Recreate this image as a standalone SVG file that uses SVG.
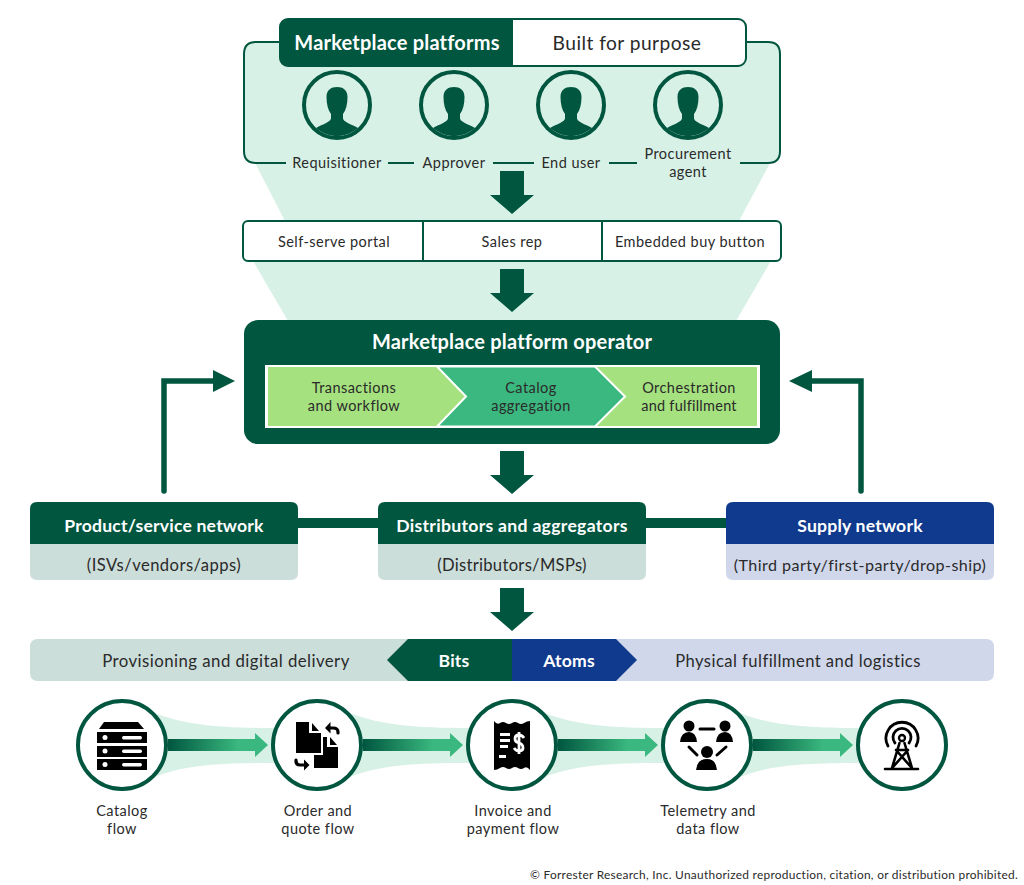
<svg xmlns="http://www.w3.org/2000/svg" xmlns:xlink="http://www.w3.org/1999/xlink" width="1024" height="885" viewBox="0 0 1024 885">
<style>
text{font-family:"Lato","Open Sans","Liberation Sans",sans-serif;fill:#2a2a2a;text-anchor:middle;font-size:14.5px;letter-spacing:.45px}
.w{fill:#fff;font-weight:700;font-size:17.6px;letter-spacing:.2px}
.t{font-size:20px}
.m{font-size:16.6px}
.d{fill:#00563f}
.o{fill:none;stroke:#00563f;stroke-width:2}
.disc{fill:#fff;stroke:#00563f;stroke-width:4}
.k{fill:#000}
.ks{fill:none;stroke:#000;stroke-linecap:round}
.rib{fill:#d8f1e6}
</style>
<defs>
<linearGradient id="fl" x1="0" x2="1" y1="0" y2="0"><stop offset="0" stop-color="#00563f"/><stop offset=".7" stop-color="#3ab87f"/></linearGradient>
<path id="dn" class="d" d="M-12,0H12V24H22L0,43L-22,24H-12Z"/>
<g id="person"><circle r="33" fill="none" stroke="#00563f" stroke-width="4"/><path class="d" d="M-10.500,-8C-10.500,-15-6,-18 0,-18C6,-18 10.500,-15 10.500,-8C10.500,-1 9,5 6,9V13C6,17 14,19 21,23A31,31 0 0 1 -21,23C-14,19 -6,17 -6,13V9C-9,5 -10.500,-1 -10.500,-8Z"/></g>
<path id="rb" class="rib" d="M-5,-32C25,-20 60,-17 115,-17V18C60,18 25,20 -5,32Z"/>
<path id="fa" fill="url(#fl)" d="M0,-6H87V-12L100,0L87,12V6H0Z"/>
</defs>

<g id="connectors">
<path class="rib" d="M255,163L285,221H739L770,163Z"/>
<path class="rib" d="M253,261L288,321H736L771,261Z"/>
<path fill="#d8f1e6" d="M256,42H768Q780,42 780,54V151Q780,163 768,163H256Q244,163 244,151V54Q244,42 256,42Z"/>
<path class="o" d="M282,42H256Q244,42 244,54V151Q244,163 256,163H286M388,163H414M493,163H534M609,163H637M740,163H768Q780,163 780,151V54Q780,42 768,42H744"/>
<use xlink:href="#dn" x="512" y="171"/>
<use xlink:href="#dn" x="512" y="269"/>
<use xlink:href="#dn" x="512" y="451"/>
<use xlink:href="#dn" x="512" y="588"/>
<path fill="none" stroke="#00563f" stroke-width="5.5" stroke-linecap="round" d="M164,491V381H215"/>
<path class="d" d="M213,370L235,381L213,392Z"/>
<path fill="none" stroke="#00563f" stroke-width="5.5" stroke-linecap="round" d="M861,491V381H810"/>
<path class="d" d="M812,370L789,381L812,392Z"/>
<rect class="d" x="296" y="518" width="84" height="10"/>
<rect class="d" x="644" y="518" width="84" height="10"/>
<use xlink:href="#rb" x="160" y="745"/>
<use xlink:href="#rb" x="355" y="745"/>
<use xlink:href="#rb" x="550" y="745"/>
<use xlink:href="#rb" x="745" y="745"/>
<use xlink:href="#fa" x="168" y="745"/>
<use xlink:href="#fa" x="363" y="745"/>
<use xlink:href="#fa" x="558" y="745"/>
<use xlink:href="#fa" x="753" y="745"/>
</g>

<g id="header">
<rect x="280" y="19" width="466" height="47" rx="8" fill="#fff" stroke="#00563f" stroke-width="2"/>
<path class="d" d="M288,19H513V66H288Q280,66 280,58V27Q280,19 288,19Z"/>
<text class="w t" x="397" y="50">Marketplace platforms</text>
<text x="627" y="50" style="font-size:19.2px">Built for purpose</text>
</g>

<g id="req"><use xlink:href="#person" x="337" y="105"/><text x="337" y="168">Requisitioner</text></g>
<g id="app"><use xlink:href="#person" x="454" y="105"/><text x="454" y="168">Approver</text></g>
<g id="end"><use xlink:href="#person" x="571" y="105"/><text x="571" y="168">End user</text></g>
<g id="proc"><use xlink:href="#person" x="688" y="105"/><text x="688" y="159">Procurement</text><text x="688" y="177">agent</text></g>

<g id="channels">
<rect x="243" y="221" width="538" height="40" rx="5" fill="#fff" stroke="#00563f" stroke-width="2"/>
<path class="o" d="M423,221V261M602,221V261"/>
<text x="334" y="247">Self-serve portal</text>
<text x="512" y="247">Sales rep</text>
<text x="690" y="247">Embedded buy button</text>
</g>

<g id="operator">
<rect class="d" x="244" y="320" width="536" height="124" rx="14"/>
<text class="w t" x="512" y="349">Marketplace platform operator</text>
<rect x="265" y="365" width="495" height="63" fill="#fff"/>
<rect x="268" y="367" width="489" height="59" fill="#a5e17f"/>
<path fill="#3ab87f" stroke="#fff" stroke-width="2" d="M437,366.500H595L625,396.500L595,426.500H437L466,396.500Z"/>
<text x="354" y="393">Transactions</text><text x="354" y="411">and workflow</text>
<text x="531" y="393">Catalog</text><text x="531" y="411">aggregation</text>
<text x="689" y="393">Orchestration</text><text x="689" y="411" style="letter-spacing:.25px">and fulfillment</text>
</g>

<g id="product">
<path fill="#ccdeda" d="M30,540H298V573Q298,580 291,580H37Q30,580 30,573Z"/>
<path class="d" d="M37,502H291Q298,502 298,509V544H30V509Q30,502 37,502Z"/>
<text class="w" x="164" y="532">Product/service network</text>
<text class="m" x="164" y="571">(ISVs/vendors/apps)</text>
</g>
<g id="distributors">
<path fill="#ccdeda" d="M378,540H646V573Q646,580 639,580H385Q378,580 378,573Z"/>
<path class="d" d="M385,502H639Q646,502 646,509V544H378V509Q378,502 385,502Z"/>
<text class="w" x="512" y="532" style="letter-spacing:.3px">Distributors and aggregators</text>
<text class="m" x="512" y="571" style="letter-spacing:.3px">(Distributors/MSPs)</text>
</g>
<g id="supply">
<path fill="#d0d7ea" d="M726,540H994V573Q994,580 987,580H733Q726,580 726,573Z"/>
<path fill="#0f3a8d" d="M733,502H987Q994,502 994,509V544H726V509Q726,502 733,502Z"/>
<text class="w" x="860" y="532">Supply network</text>
<text class="m" x="860" y="571" style="font-size:16.1px">(Third party/first-party/drop-ship)</text>
</g>

<g id="bar">
<path fill="#ccdeda" d="M38,639H512V681H38Q30,681 30,673V647Q30,639 38,639Z"/>
<path fill="#d0d7ea" d="M512,639H986Q994,639 994,647V673Q994,681 986,681H512Z"/>
<path class="d" d="M512,639H408L387,660L408,681H512Z"/>
<path fill="#0f3a8d" d="M512,639H616L637,660L616,681H512Z"/>
<text class="w" x="454" y="667">Bits</text>
<text class="w" x="569" y="667">Atoms</text>
<text class="m" x="226" y="667" style="font-size:16.8px">Provisioning and digital delivery</text>
<text class="m" x="798" y="667">Physical fulfillment and logistics</text>
</g>

<g id="catalog">
<circle class="disc" cx="122" cy="745" r="44"/>
<path class="k" d="M104,722H138L144,729H99Z"/>
<rect class="k" x="97" y="732" width="50" height="11"/><rect class="k" x="97" y="746" width="50" height="11"/><rect class="k" x="97" y="759" width="50" height="11"/>
<g fill="#fff"><circle cx="105" cy="737.500" r="2.500"/><circle cx="105" cy="751" r="2.500"/><circle cx="105" cy="764.500" r="2.500"/><rect x="122" y="736" width="20" height="3.500" rx="1.700"/><rect x="122" y="749.500" width="20" height="3.500" rx="1.700"/><rect x="122" y="763" width="20" height="3.500" rx="1.700"/></g>
<text x="122" y="816">Catalog</text><text x="122" y="834">flow</text>
</g>
<g id="order">
<circle class="disc" cx="317" cy="745" r="44"/>
<path class="k" d="M296,722H309V733H321V753H296Z"/>
<path class="k" d="M323,737H327V747H338V768H314V755H323Z"/>
<path class="k" d="M312,723L319,731H312Z"/><path class="k" d="M330,737L337,745H330Z"/>
<path class="ks" stroke-width="3.200" d="M338,733V732Q338,728 333,728H328"/><path class="k" d="M330.500,722L325,728L330.500,733.500Z"/>
<path class="ks" stroke-width="3.200" d="M296,760V761Q296,765 300,765H305"/><path class="k" d="M304,759.500L309.500,765L304,770.500Z"/>
<text x="318" y="816">Order and</text><text x="318" y="834">quote flow</text>
</g>
<g id="invoice">
<circle class="disc" cx="512" cy="745" r="44"/>
<path class="k" d="M494,721Q497,725 500,723T506,723T512,723T518,723T524,723T530,721V770Q527,766 524,768T518,768T512,768T506,768T500,768T494,770Z"/>
<g fill="#fff"><rect x="500" y="733" width="10" height="3"/><rect x="500" y="739" width="10" height="3"/><rect x="500" y="745" width="8" height="3"/><rect x="499" y="755" width="7" height="3"/></g>
<path fill="none" stroke="#fff" stroke-width="2.800" d="M524,738Q522,735 519,735Q515,735 515,739Q515,742 519,743Q523,744 523,748Q523,751 519,751Q516,751 514,748M519,732V754"/>
<text x="513" y="816">Invoice and</text><text x="513" y="834">payment flow</text>
</g>
<g id="telemetry">
<circle class="disc" cx="707" cy="745" r="44"/>
<g class="k"><circle cx="689" cy="726" r="5.500"/><path d="M680,742Q681,732 689,732Q696,732 697,742Z"/><circle cx="725" cy="726" r="5.500"/><path d="M716,742Q717,732 725,732Q732,732 733,742Z"/><circle cx="707" cy="752" r="6"/><path d="M696,770Q697,759 707,759Q716,759 717,770Z"/></g>
<path class="ks" stroke-width="3" d="M700,729H714M689,747L697,755M726,747L717,755"/>
<text x="708" y="816">Telemetry and</text><text x="708" y="834">data flow</text>
</g>
<g id="network">
<circle class="disc" cx="902" cy="745" r="44"/>
<path class="ks" stroke-width="2.800" d="M888,746A16,16 0 1 1 916,746M895,743A9,9 0 1 1 909,743"/>
<circle cx="902" cy="738" r="3" fill="none" stroke="#000" stroke-width="2.300"/>
<path class="ks" stroke-width="2.600" d="M899.500,743L892,768M904.500,743L912,768M885,769H918M896,750H908M896,750L911,767M908,750L893,767"/>
</g>

<text id="copyright" x="1018" y="879" style="text-anchor:end;font-size:11.9px;letter-spacing:.28px">© Forrester Research, Inc. Unauthorized reproduction, citation, or distribution prohibited.</text>
</svg>
